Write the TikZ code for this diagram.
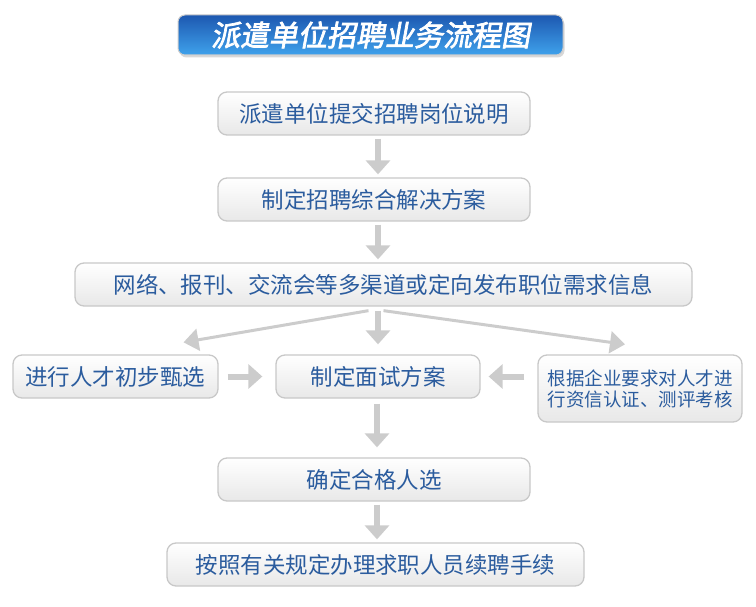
\documentclass[tikz,border=0pt]{standalone}
\usepackage{fontspec}
\setmainfont{Noto Sans CJK SC}
\newfontfamily\titlefont[FakeSlant=0.18,FakeBold=2.5]{Noto Sans CJK SC}
\usepackage{xcolor}
\usetikzlibrary{arrows.meta,shadows}

\definecolor{txtblue}{HTML}{2B5C9E}
\definecolor{arrgray}{HTML}{CCCCCC}
\definecolor{boxline}{HTML}{C8C8C8}
\definecolor{titletop}{HTML}{1D58B0}
\definecolor{titlebot}{HTML}{3FA2EC}

\begin{document}
\begin{tikzpicture}[x=1pt,y=-1pt,
    stepbox/.style={draw=boxline, line width=1.3pt, rounded corners=9pt, top color=white, bottom color=black!9,
      minimum height=43pt, text=txtblue, font=\fontsize{22.5}{25}\selectfont, inner sep=0pt},
    flow/.style={draw=arrgray, line width=6pt, -{Triangle[length=14pt,width=24pt]}},
    slant/.style={draw=arrgray, line width=3pt, -{Triangle[length=15pt,width=22pt]}}]
    \useasboundingbox (0,0) rectangle (756,607);

    % title
    \node (title) [draw=black!20, line width=1pt, rounded corners=7pt, top color=titletop, bottom color=titlebot,
      drop shadow={shadow xshift=1.5pt, shadow yshift=-2.5pt, fill=black!30},
      minimum width=385pt, minimum height=40pt, text=white, font=\titlefont\fontsize{29}{31}\selectfont] at (370.5,35) {派遣单位招聘业务流程图};

    % boxes
    \node (submit) [stepbox, minimum width=312pt] at (374,113.5) {派遣单位提交招聘岗位说明};
    \node (plan) [stepbox, minimum width=312pt] at (374,199.5) {制定招聘综合解决方案};
    \node (publish) [stepbox, minimum width=617pt] at (383.5,284.5) {网络、报刊、交流会等多渠道或定向发布职位需求信息};
    \node (screen) [stepbox, minimum width=205pt] at (115.5,376.5) {进行人才初步甄选};
    \node (interview) [stepbox, minimum width=204pt] at (378,376.5) {制定面试方案};
    \node (check) [stepbox, minimum width=204pt, minimum height=67pt, align=center,
      font=\fontsize{18.5}{21}\selectfont] at (640,388.5) {根据企业要求对人才进\\行资信认证、测评考核};
    \node (confirm) [stepbox, minimum width=312pt] at (374,479.5) {确定合格人选};
    \node (finish) [stepbox, minimum width=417pt] at (375.5,564.5) {按照有关规定办理求职人员续聘手续};

    % arrows
    \draw[flow, shorten <=3pt, shorten >=3pt] ([xshift=4pt]submit.south) -- ([xshift=4pt]plan.north);
    \draw[flow, shorten <=3pt, shorten >=3pt] ([xshift=4pt]plan.south) -- ([xshift=4pt]publish.north -| plan.north);
    \draw[flow, shorten <=4pt, shorten >=10pt] ([xshift=-5.5pt]publish.south) -- (interview.north);
    \draw[slant] ([xshift=-15pt,yshift=-4pt]publish.south) -- ([xshift=68pt,yshift=12pt]screen.north);
    \draw[slant] ([xshift=0pt,yshift=-4pt]publish.south) -- ([xshift=-15pt,yshift=10pt]check.north);
    \draw[flow, shorten <=9pt, shorten >=13pt] (screen.east) -- (interview.west);
    \draw[flow, shorten <=13pt, shorten >=8pt] (check.west |- interview.east) -- (interview.east);
    \draw[flow, shorten <=5pt, shorten >=10pt] ([xshift=-1pt]interview.south) -- ([xshift=3pt]confirm.north);
    \draw[flow, shorten <=3pt, shorten >=3pt] ([xshift=3pt]confirm.south) -- ([xshift=1.5pt]finish.north);
\end{tikzpicture}
\end{document}
